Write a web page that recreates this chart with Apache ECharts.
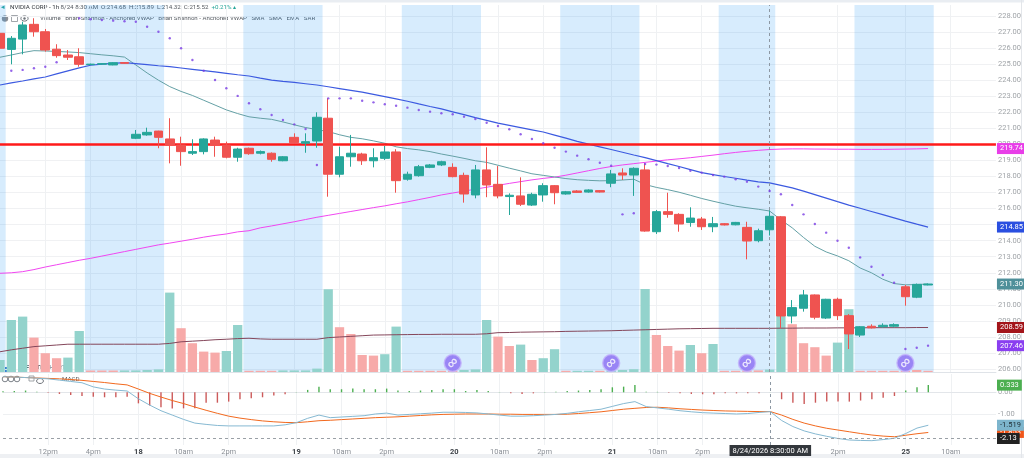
<!DOCTYPE html>
<html><head><meta charset="utf-8">
<script src="https://cdn.jsdelivr.net/npm/echarts@6/dist/echarts.min.js"></script>
<style>html,body{margin:0;padding:0;background:#fff}#c{width:1024px;height:458px}</style>
</head><body><div id="c"></div>
<script>
// ---------- categories (hourly bars) ----------
const categories = [
'8/17 08:30','8/17 09:30','8/17 10:30','8/17 11:30','8/17 12:30','8/17 13:30','8/17 14:30','8/17 15:30','8/17 16:00','8/17 17:00','8/17 18:00','8/17 19:00',
'8/18 06:30','8/18 07:30','8/18 08:30','8/18 09:30','8/18 10:30','8/18 11:30','8/18 12:30','8/18 13:30','8/18 14:30','8/18 15:30','8/18 16:00','8/18 17:00','8/18 18:00','8/18 19:00',
'8/19 06:30','8/19 07:30','8/19 08:30','8/19 09:30','8/19 10:30','8/19 11:30','8/19 12:30','8/19 13:30','8/19 14:30','8/19 15:30','8/19 16:00','8/19 17:00','8/19 18:00','8/19 19:00',
'8/20 06:30','8/20 07:30','8/20 08:30','8/20 09:30','8/20 10:30','8/20 11:30','8/20 12:30','8/20 13:30','8/20 14:30','8/20 15:30','8/20 16:00','8/20 17:00','8/20 18:00','8/20 19:00',
'8/21 06:30','8/21 07:30','8/21 08:30','8/21 09:30','8/21 10:30','8/21 11:30','8/21 12:30','8/21 13:30','8/21 14:30','8/21 15:30','8/21 16:00','8/21 17:00','8/21 18:00','8/21 19:00',
'8/24 08:30','8/24 09:30','8/24 10:30','8/24 11:30','8/24 12:30','8/24 13:30','8/24 14:30','8/24 15:30','8/24 16:00','8/24 17:00','8/24 18:00','8/24 19:00',
'8/25 06:30','8/25 07:30','8/25 08:30','8/25 09:30','8/25 10:30','8/25 11:30','8/25 12:30','8/25 13:30','8/25 14:30'
];
const tickIndex = [4,8,12,16,20,26,30,34,40,44,48,54,58,62,74,80,84];
const tickText  = ['12pm','4pm','18','10am','2pm','19','10am','2pm','20','10am','2pm','21','10am','2pm','2pm','25','10am'];
const priceTicks = [206,207,208,209,210,211,212,213,214,215,216,217,218,219,220,221,222,223,224,225,226,227,228];
const macdTicks = [-1,0];
const crosshairBar = '8/24 08:30';
const crosshairText = '8/24/2026 8:30:00 AM';
const extendedHours = [[0,0],[8,14],[22,28],[36,42],[50,56],[64,68],[76,82]];
const newsBars = [40,54,66,80];
const newsLevel = 206.38;
const resistance = 220;

// ---------- OHLC ----------
const open = [226.92,225.92,226.56,227.48,227.02,225.93,225.57,225.46,224.97,225.00,
224.95,225.10,220.38,220.59,220.83,220.34,219.96,219.45,219.55,220.27,
219.96,219.20,219.76,219.45,219.45,218.98,220.44,220.07,220.21,221.63,
218.14,219.23,219.40,218.98,219.13,219.53,217.83,218.05,218.57,218.72,
218.57,218.07,216.85,218.41,217.51,216.75,216.79,216.22,216.85,217.43,
216.91,217.10,217.03,217.12,217.58,218.22,218.09,218.41,214.56,215.81,
215.64,215.13,215.35,214.87,215.06,214.99,214.83,214.00,214.68,215.49,
209.31,209.79,210.62,209.18,210.35,209.33,208.12,208.67,208.64,208.67,
211.13,210.48,211.24];
const close = [225.99,226.61,227.44,227.02,225.88,225.53,225.43,224.99,225.00,225.03,
225.09,225.05,220.63,220.75,220.44,219.96,219.55,219.55,220.34,219.96,
219.20,219.71,219.42,219.55,219.07,219.23,220.11,220.17,221.69,218.14,
219.23,219.45,218.98,219.17,219.53,217.74,218.14,218.61,218.72,218.92,
217.99,216.91,218.41,217.47,216.79,216.83,216.27,216.89,217.43,216.99,
217.05,217.01,217.16,217.03,218.16,218.09,218.51,214.60,215.81,215.64,
215.04,215.41,214.87,215.06,214.98,215.14,213.98,214.62,215.52,209.31,
209.83,210.62,209.23,210.35,209.33,208.19,208.64,208.57,208.73,208.77,
210.51,211.28,211.30];
const low = [225.80,224.99,225.61,226.71,225.78,225.40,225.26,224.84,224.94,224.98,
224.93,225.03,220.33,220.54,219.76,218.82,218.67,219.34,219.38,219.23,
219.13,218.92,219.35,219.38,218.92,218.95,220.07,219.48,219.79,216.74,
217.95,218.61,218.72,218.57,219.03,216.99,217.74,217.99,218.52,218.65,
217.95,216.37,216.64,216.71,216.64,215.60,216.16,216.16,216.43,216.27,
216.87,216.98,216.99,217.00,217.33,217.78,216.79,214.56,214.42,215.43,
214.56,214.87,214.67,214.53,214.95,214.96,212.84,213.90,214.32,208.54,
208.85,209.58,209.10,209.12,209.06,207.25,208.00,208.53,208.58,208.60,
209.95,210.42,211.22];
const high = [227.10,226.75,227.64,227.86,227.19,226.24,225.88,225.99,225.03,225.05,
225.12,225.12,220.90,221.04,220.85,221.63,220.48,220.32,220.38,220.48,
220.17,219.79,219.80,219.62,219.50,219.27,220.69,220.69,222.00,222.87,
219.86,220.59,219.48,219.76,219.90,219.70,218.30,218.72,218.78,218.98,
218.82,218.24,218.72,219.82,218.65,216.95,217.95,216.99,217.58,217.47,
217.10,217.15,217.20,217.15,218.41,218.51,218.57,218.82,215.91,216.99,
215.71,216.08,215.48,215.48,215.10,215.17,215.18,214.75,215.89,215.54,
210.30,210.93,210.65,210.38,210.45,209.43,208.68,208.79,208.85,208.85,
211.24,211.33,211.33];

// ---------- volume (M) ----------
const volume = [6,26,27.7,17.2,9.4,6.9,7.2,20.5,0.75,0.75,
0.75,0.8,0.8,1,1.3,39.7,21.9,14.4,10.2,9.7,
10.5,23.5,0.6,0.6,0.6,0.8,0.8,0.8,1.7,41.4,
22.4,19,8.5,8.2,8.9,22.7,0.6,0.6,0.6,0.6,
0.6,1,1.3,26,17.7,13,13.7,6,6.9,11.4,
0.6,0.6,0.6,0.6,0.8,1,1.4,41.5,18.5,13,
10.7,13.5,9.4,14,0.6,0.6,0.8,0.8,1.2,45,
23.9,14.4,12.4,8.2,14.7,31.4,0.6,0.6,0.6,0.6,
0.6,1,0.6];
const volUp = [1,1,1,0,0,0,1,1,0,0, 0,1,1,1,1,1,0,0,0,0, 1,1,0,0,0,1,1,1,1,1,
0,0,0,0,1,1,0,0,0,0, 0,1,1,1,0,0,1,0,1,1, 0,1,1,0,1,1,1,1,0,0,
0,1,0,1,0,0,0,0,1,1, 0,0,0,0,1,1,0,0,0,0, 0,0,0];

// ---------- overlays ----------
const smaBlue = [223.70,223.83,223.95,224.08,224.20,224.39,224.58,224.77,224.93,225.00,
225.05,225.09,225.03,224.97,224.90,224.84,224.76,224.68,224.60,224.52,
224.43,224.34,224.26,224.13,224.01,223.93,223.86,223.78,223.70,223.59,
223.48,223.37,223.26,223.12,222.98,222.84,222.69,222.52,222.36,222.21,
222.03,221.85,221.67,221.50,221.33,221.19,221.05,220.91,220.77,220.58,
220.39,220.19,220.02,219.85,219.68,219.51,219.34,219.18,218.99,218.80,
218.62,218.43,218.24,218.12,218.00,217.89,217.77,217.66,217.60,217.45,
217.29,217.09,216.87,216.65,216.43,216.22,216.02,215.82,215.62,215.42,
215.22,215.03,214.85];
const smaTeal = [225.43,225.57,225.72,225.84,225.82,225.79,225.76,225.72,225.65,225.58,
225.52,225.44,224.95,224.45,224.00,223.60,223.30,223.05,222.75,222.45,
222.15,221.92,221.72,221.63,221.56,221.40,221.22,221.05,220.92,220.80,
220.60,220.44,220.35,220.22,220.07,219.85,219.74,219.66,219.55,219.40,
219.27,219.13,218.98,218.88,218.70,218.52,218.35,218.17,218.07,217.97,
217.87,217.80,217.76,217.73,217.74,217.78,217.83,217.50,217.32,217.18,
217.02,216.83,216.63,216.46,216.30,216.15,216.05,215.96,215.85,215.30,
214.80,214.20,213.65,213.30,213.05,212.75,212.30,212.00,211.60,211.33,
211.25,211.27,211.30];
const vwapMagenta = [211.97,212.00,212.07,212.20,212.36,212.50,212.64,212.78,212.90,213.04,
213.18,213.32,213.46,213.60,213.74,213.85,213.97,214.09,214.22,214.33,
214.42,214.55,214.62,214.80,214.92,215.05,215.18,215.32,215.46,215.58,
215.70,215.82,215.94,216.06,216.17,216.30,216.42,216.56,216.70,216.85,
216.97,217.09,217.21,217.33,217.45,217.57,217.68,217.79,217.88,217.96,
218.08,218.22,218.36,218.50,218.62,218.72,218.80,218.88,218.96,219.04,
219.10,219.17,219.25,219.33,219.42,219.50,219.57,219.63,219.68,219.71,
219.72,219.72,219.71,219.71,219.70,219.70,219.69,219.69,219.69,219.70,
219.71,219.72,219.74];
const vwapMaroon = [207.08,207.20,207.30,207.40,207.45,207.50,207.55,207.55,207.55,207.55,
207.55,207.55,207.55,207.55,207.55,207.60,207.70,207.74,207.78,207.83,
207.86,207.90,207.92,207.88,207.86,207.86,207.86,207.86,207.86,207.96,
208.00,208.04,208.08,208.12,208.13,208.14,208.15,208.16,208.16,208.17,
208.17,208.17,208.17,208.20,208.27,208.28,208.30,208.31,208.32,208.33,
208.35,208.36,208.37,208.38,208.39,208.41,208.43,208.45,208.47,208.49,
208.51,208.52,208.53,208.54,208.54,208.54,208.54,208.54,208.54,208.55,
208.55,208.56,208.56,208.56,208.57,208.57,208.57,208.58,208.58,208.58,
208.58,208.59,208.59];
const sar = [null,224.59,224.64,224.74,224.84,225.12,null,227.86,227.80,227.75,
227.71,227.67,227.64,227.33,227.02,226.61,225.99,225.26,224.59,224.01,
223.50,223.02,222.56,222.19,221.83,221.52,221.25,220.96,218.72,222.87,
222.87,222.87,222.72,222.62,222.50,222.41,222.29,222.14,222.04,221.94,
221.88,221.73,221.58,221.35,221.15,220.94,220.63,220.34,220.07,219.79,
219.55,219.30,219.07,218.86,218.67,215.64,215.71,218.78,218.74,218.65,
218.53,218.36,218.24,218.09,217.99,217.83,217.68,217.37,217.10,216.89,
216.22,215.64,215.04,214.50,214.00,213.56,212.96,212.38,211.86,211.38,
207.25,207.33,207.46];

// ---------- MACD ----------
const macdLine = [0.72,0.70,0.68,0.65,0.62,0.56,0.50,0.44,0.25,0.15,
0.10,0.06,-0.30,-0.59,-0.85,-1.05,-1.25,-1.42,-1.48,-1.53,
-1.55,-1.55,-1.55,-1.55,-1.55,-1.50,-1.40,-1.20,-1.05,-1.17,
-1.14,-1.11,-1.08,-1.00,-0.96,-1.05,-1.02,-0.99,-0.96,-0.92,
-0.92,-0.93,-0.95,-1.00,-1.05,-1.10,-1.10,-1.08,-1.05,-1.02,
-0.97,-0.90,-0.84,-0.78,-0.65,-0.52,-0.43,-0.66,-0.72,-0.78,
-0.85,-0.90,-0.94,-0.96,-0.98,-1.00,-0.98,-0.93,-0.89,-1.30,
-1.58,-1.78,-1.92,-2.03,-2.13,-2.20,-2.22,-2.23,-2.18,-2.12,
-1.90,-1.65,-1.519];
const signalLine = [0.72,0.70,0.68,0.66,0.64,0.62,0.59,0.55,0.50,0.45,
0.39,0.34,0.15,-0.05,-0.22,-0.38,-0.52,-0.68,-0.83,-0.97,
-1.10,-1.19,-1.26,-1.32,-1.36,-1.39,-1.40,-1.36,-1.31,-1.29,
-1.26,-1.23,-1.20,-1.17,-1.15,-1.13,-1.10,-1.07,-1.04,-1.02,
-1.01,-1.00,-1.00,-1.00,-1.01,-1.01,-1.02,-1.02,-1.02,-1.02,
-1.01,-0.98,-0.94,-0.90,-0.84,-0.78,-0.74,-0.70,-0.69,-0.72,
-0.76,-0.79,-0.82,-0.84,-0.86,-0.87,-0.88,-0.89,-0.89,-1.05,
-1.25,-1.42,-1.55,-1.66,-1.74,-1.82,-1.90,-1.97,-2.02,-2.05,
-1.98,-1.91,-1.853];
const histogram = [0.05,0.06,0.08,0.03,-0.02,-0.077,-0.12,-0.17,-0.20,-0.23,
-0.23,-0.20,-0.51,-0.61,-0.69,-0.75,-0.74,-0.74,-0.48,-0.48,
-0.43,-0.32,-0.28,-0.23,-0.15,-0.09,0.01,0.11,0.26,0.14,
0.14,0.17,0.14,0.14,0.17,0.08,0.06,0.08,0.11,0.14,
0.14,0.06,0.11,0.06,0.01,-0.05,-0.08,-0.05,0.01,0.03,
0.06,0.08,0.11,0.14,0.23,0.26,0.34,0.03,0.02,-0.02,
-0.05,-0.08,-0.09,-0.09,-0.05,-0.05,-0.05,-0.05,0.005,-0.32,
-0.48,-0.54,-0.48,-0.43,-0.43,-0.43,-0.38,-0.32,-0.25,-0.17,
0.08,0.23,0.333];
const macdZeroLine = -2.13;

// ---------- build ----------
const FONT = 'Roboto, "Liberation Sans", sans-serif';
const UP = '#26a69a', DOWN = '#ef5350';
const tickMap = {};
tickIndex.forEach((idx, k) => { tickMap[idx] = tickText[k]; });
const candleData = open.map((o, i) => [o, close[i], low[i], high[i]]);
const volData = volume.map((v, i) => ({ value: v, itemStyle: { color: volUp[i] ? '#93d3cc' : '#f7aaa9' } }));
const histData = histogram.map(v => ({ value: v, itemStyle: { color: v >= 0 ? '#4caf50' : '#cc5a5a' } }));
const newsData = newsBars.map(b => [b, newsLevel]);

function tag(v, text, bg, fg) {
  return {
    yAxis: v,
    lineStyle: { width: 0, color: 'rgba(0,0,0,0)' },
    label: { show: true, position: 'end', distance: 1, formatter: text, backgroundColor: bg, color: fg || '#fff',
      fontSize: 7.5, fontFamily: FONT, padding: [2, 3, 1, 3], lineHeight: 8, opacity: 1 }
  };
}
function mline(items) { return { silent: true, symbol: ['none', 'none'], animation: false, data: items }; }

const splitIv = (idx) => tickMap[idx] !== undefined;

const option = {
  animation: false,
  backgroundColor: '#fff',
  textStyle: { fontFamily: FONT },
  grid: [
    { left: 0, right: 28, top: 5, height: 367 },
    { left: 0, right: 28, top: 374, height: 71 }
  ],
  xAxis: [
    { type: 'category', gridIndex: 0, data: categories, boundaryGap: false,
      axisLabel: { show: false }, axisTick: { show: false },
      axisLine: { show: true, lineStyle: { color: '#dfe3e8' } },
      splitLine: { show: true, interval: splitIv, lineStyle: { color: '#eff1f3' } } },
    { type: 'category', gridIndex: 1, data: categories, boundaryGap: false,
      axisTick: { show: false },
      axisLine: { show: true, lineStyle: { color: '#e3e6ea' } },
      splitLine: { show: true, interval: splitIv, lineStyle: { color: '#eff1f3' } },
      axisLabel: { interval: 0, margin: 3, fontSize: 7.5, color: '#8a8f96', fontFamily: FONT,
        formatter: (v, i) => { const t = tickMap[i]; if (!t) return ''; return /^\d+$/.test(t) ? '{d|' + t + '}' : t; },
        rich: { d: { fontSize: 7.5, fontWeight: 'bold', color: '#3a3f45', fontFamily: FONT } } } }
  ],
  yAxis: [
    { type: 'value', gridIndex: 0, position: 'right', min: 205.819, max: 228.685, scale: true,
      axisLine: { show: false }, axisTick: { show: false, customValues: priceTicks },
      splitLine: { show: true, lineStyle: { color: '#f0f1f3' } },
      axisLabel: { customValues: priceTicks, margin: 2, fontSize: 7.5, color: '#a0a4a8', fontFamily: FONT, formatter: v => v.toFixed(2) } },
    { type: 'value', gridIndex: 0, min: 0, max: 183.5, show: false, splitLine: { show: false } },
    { type: 'value', gridIndex: 1, position: 'right', min: -2.43, max: 0.843,
      axisLine: { show: false }, axisTick: { show: false, customValues: macdTicks },
      splitLine: { show: true, lineStyle: { color: '#eef0f2' } },
      axisLabel: { customValues: macdTicks, margin: 2, fontSize: 7.5, color: '#a0a4a8', fontFamily: FONT, formatter: v => v.toFixed(2) } }
  ],
  series: [
    { name: 'Extended hours', type: 'custom', xAxisIndex: 0, yAxisIndex: 0, z: 0, silent: true,
      data: extendedHours,
      renderItem: function (params, api) {
        const a = api.coord([api.value(0), 220]);
        const b = api.coord([api.value(1), 220]);
        const w = api.size([1, 0])[0];
        const cs = params.coordSys;
        const x0 = Math.max(cs.x, a[0] - w / 2);
        return { type: 'rect', shape: { x: x0, y: cs.y, width: b[0] + w / 2 - x0, height: cs.height },
          style: { fill: 'rgba(33,150,243,0.18)' } };
      } },
    { name: 'Volume', type: 'bar', xAxisIndex: 0, yAxisIndex: 1, z: 1, barWidth: '82%', data: volData },
    { name: 'Brian Shannon - Anchored VWAP', type: 'line', xAxisIndex: 0, yAxisIndex: 0, z: 2, data: vwapMaroon,
      showSymbol: false, lineStyle: { color: '#84465a', width: 1 },
      markLine: mline([tag(208.59, '208.59', '#a3151a')]) },
    { name: 'Brian Shannon - Anchored VWAP 2', type: 'line', xAxisIndex: 0, yAxisIndex: 0, z: 3, data: vwapMagenta,
      showSymbol: false, lineStyle: { color: '#f046f0', width: 1 },
      markLine: mline([tag(219.74, '219.74', '#e83ee8')]) },
    { name: 'SMA', type: 'line', xAxisIndex: 0, yAxisIndex: 0, z: 3, data: smaTeal,
      showSymbol: false, lineStyle: { color: '#64a0a5', width: 1 },
      markLine: mline([tag(211.30, '211.30', '#4f909a')]) },
    { name: 'SMA 2', type: 'line', xAxisIndex: 0, yAxisIndex: 0, z: 3, data: smaBlue,
      showSymbol: false, lineStyle: { color: '#3c5ae0', width: 1.2 },
      markLine: mline([tag(214.85, '214.85', '#2a4fe0')]) },
    { name: 'NVIDIA CORP', type: 'candlestick', xAxisIndex: 0, yAxisIndex: 0, z: 5, barWidth: '80%', data: candleData,
      itemStyle: { color: UP, color0: DOWN, borderColor: UP, borderColor0: DOWN, borderWidth: 1 },
      markLine: mline([
        { yAxis: resistance, lineStyle: { color: '#ff1a1a', width: 2.5, type: 'solid' }, label: { show: false } },
        { xAxis: crosshairBar, lineStyle: { color: '#8d98a3', width: 1, type: [3, 3] }, label: { show: false } }
      ]) },
    { name: 'SAR', type: 'scatter', xAxisIndex: 0, yAxisIndex: 0, z: 6, data: sar, symbolSize: 2.4,
      itemStyle: { color: '#7b3fe4' },
      markLine: mline([tag(207.46, '207.46', '#8a3ff0')]) },
    { name: 'News', type: 'scatter', xAxisIndex: 0, yAxisIndex: 0, z: 7, data: newsData, symbolSize: 17,
      itemStyle: { color: '#8a6cf2', borderColor: '#c4b5fb', borderWidth: 1.5 },
      label: { show: true, position: 'inside', formatter: '∞', color: '#fff', fontSize: 10, fontWeight: 'bold', rotate: 45 } },
    { name: 'Signal', type: 'line', xAxisIndex: 1, yAxisIndex: 2, z: 3, data: signalLine,
      showSymbol: false, lineStyle: { color: '#f2691e', width: 1 },
      markLine: mline([tag(-1.853, '-1.853', '#f0561a')]) },
    { name: 'MACD', type: 'line', xAxisIndex: 1, yAxisIndex: 2, z: 4, data: macdLine,
      showSymbol: false, lineStyle: { color: '#86b9d2', width: 1 },
      markLine: mline([
        tag(-1.519, '-1.519', '#7db5cd', '#1d2b33'),
        { xAxis: crosshairBar, lineStyle: { color: '#8d98a3', width: 1, type: [3, 3] },
          label: { show: true, position: 'start', distance: 0, formatter: crosshairText, backgroundColor: '#33373c',
            color: '#fff', fontSize: 7.5, fontFamily: FONT, padding: [2, 3, 1, 3] } }
      ]) },
    { name: 'Histogram', type: 'bar', xAxisIndex: 1, yAxisIndex: 2, z: 2, barWidth: 1.4, data: histData,
      markLine: mline([
        { yAxis: macdZeroLine, lineStyle: { color: '#9aa0a6', width: 1, type: [3, 3] },
          label: { show: true, position: 'end', distance: 1, formatter: '-2.13', backgroundColor: '#222', color: '#fff',
            fontSize: 7.5, fontFamily: FONT, padding: [2, 3, 1, 3], lineHeight: 8 } },
        tag(0.333, '0.333', '#4caf50')
      ]) }
  ],
  graphic: [
    { type: 'rect', shape: { x: 0, y: 0, width: 1024, height: 2.5 }, style: { fill: '#e9edf2' }, silent: true },
    { type: 'rect', shape: { x: 0, y: 454, width: 1024, height: 4 }, style: { fill: '#eef0f3' }, silent: true },
    { type: 'line', shape: { x1: 1021.5, y1: 0, x2: 1021.5, y2: 458 }, style: { stroke: '#e3e6ea', lineWidth: 1 }, silent: true },
    // header line 1
    { type: 'text', x: 1, y: 7, style: { text: '◂', fill: UP, fontSize: 7, fontFamily: FONT, verticalAlign: 'middle' } },
    { type: 'text', x: 10, y: 7, style: {
        text: '{a|NVIDIA CORP - 1h}{b| 8/24 8:30 AM  O:214.68  H:215.89  L:214.32  C:215.52 }{g| +0.21% ▴}',
        verticalAlign: 'middle', fontFamily: FONT, fontSize: 6.2,
        rich: { a: { fill: '#30353a', fontSize: 6.2, fontFamily: FONT },
                b: { fill: '#555a60', fontSize: 6.2, fontFamily: FONT },
                g: { fill: UP, fontSize: 6.2, fontFamily: FONT } } } },
    // header line 2
    { type: 'circle', shape: { cx: 5, cy: 18.5, r: 3.2 }, style: { fill: '#8a8f96' } },
    { type: 'rect', shape: { x: 11.5, y: 15.5, width: 6, height: 6 }, style: { fill: 'none', stroke: '#8a8f96', lineWidth: 0.8 } },
    { type: 'ellipse', shape: { cx: 24.5, cy: 18.5, rx: 3.6, ry: 2.6 }, style: { fill: 'none', stroke: '#6e737a', lineWidth: 1 } },
    { type: 'circle', shape: { cx: 24.5, cy: 18.5, r: 1.2 }, style: { fill: '#6e737a' } },
    { type: 'text', x: 40, y: 18.5, style: {
        text: 'Volume   Brian Shannon - Anchored VWAP   Brian Shannon - Anchored VWAP   SMA   SMA   EMA   SAR',
        fill: '#555a60', fontSize: 6.1, fontFamily: FONT, verticalAlign: 'middle' } },
    // MACD header
    { type: 'circle', shape: { cx: 5, cy: 379, r: 2.8 }, style: { fill: 'none', stroke: '#7d8289', lineWidth: 1 } },
    { type: 'circle', shape: { cx: 11, cy: 379, r: 2.8 }, style: { fill: 'none', stroke: '#7d8289', lineWidth: 1 } },
    { type: 'circle', shape: { cx: 17, cy: 379, r: 2.8 }, style: { fill: 'none', stroke: '#7d8289', lineWidth: 1 } },
    { type: 'rect', shape: { x: 29, y: 376, width: 5, height: 5 }, style: { fill: 'none', stroke: '#8a8f96', lineWidth: 0.8 } },
    { type: 'ellipse', shape: { cx: 40, cy: 381, rx: 3.4, ry: 2.5 }, style: { fill: 'none', stroke: '#6e737a', lineWidth: 1 } },
    { type: 'text', x: 62, y: 379.5, style: { text: 'MACD', fill: '#555a60', fontSize: 6.2, fontFamily: FONT, verticalAlign: 'middle' } },
    // logo
    { type: 'rect', shape: { x: 5, y: 367, width: 2.5, height: 5 }, style: { fill: '#3d7fd1' } },
    { type: 'rect', shape: { x: 8.5, y: 364, width: 2.5, height: 8 }, style: { fill: '#5aa0e6' } },
    { type: 'rect', shape: { x: 12, y: 366, width: 2.5, height: 6 }, style: { fill: '#3d7fd1' } },
    { type: 'text', x: 20, y: 368.5, style: { text: 'WEALTH', fill: '#4a545e', fontSize: 6.4, fontWeight: 'bold', fontFamily: FONT, verticalAlign: 'middle' } },
    { type: 'text', x: 45, y: 368.5, style: { text: 'CHARTS', fill: '#9aa3ac', fontSize: 6.4, fontWeight: 'bold', fontFamily: FONT, verticalAlign: 'middle' } }
  ]
};
const chart = echarts.init(document.getElementById('c'));
chart.setOption(option);
</script>
</body></html>
